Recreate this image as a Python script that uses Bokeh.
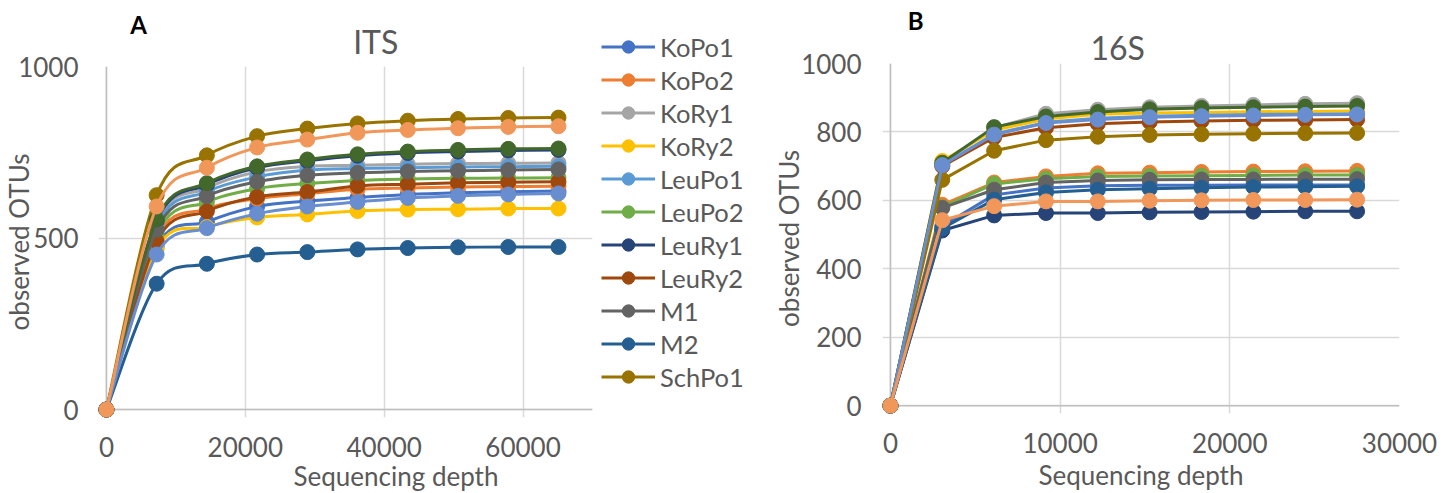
import numpy as np
from bokeh.plotting import figure
from bokeh.models import Range1d, FixedTicker, Legend, LegendItem, Span, Title, LinearAxis
from bokeh.layouts import row
from bokeh.embed import file_html
from bokeh.resources import INLINE

FONT = "Lato"
TEXT = "#595959"

# ---------------- data ----------------
series_names = ["KoPo1", "KoPo2", "KoRy1", "KoRy2", "LeuPo1", "LeuPo2", "LeuRy1",
                "LeuRy2", "M1", "M2", "SchPo1", "SchPo2", "SchRy1", "SchRy2"]
series_colors = ["#4472C4", "#ED7D31", "#A5A5A5", "#FFC000", "#5B9BD5", "#70AD47", "#264478",
                 "#9E480E", "#636363", "#255E91", "#997300", "#43682B", "#698ED0", "#F1975A"]
legend_count = 11

its_depth = [0, 7233, 14467, 21700, 28933, 36167, 43400, 50633, 57867, 65100]
its_KoPo1 = [0, 475, 547, 592, 608, 618, 627, 632, 635, 637]
its_KoPo2 = [0, 500, 585, 615, 629, 642, 646, 649, 650, 651]
its_KoRy1 = [0, 545, 645, 693, 709, 712, 715, 717, 718, 719]
its_KoRy2 = [0, 468, 532, 560, 569, 579, 583, 584, 586, 586]
its_LeuPo1 = [0, 535, 635, 678, 698, 703, 705, 707, 708, 709]
its_LeuPo2 = [0, 512, 605, 644, 659, 668, 672, 674, 675, 676]
its_LeuRy1 = [0, 550, 655, 705, 725, 740, 748, 752, 755, 757]
its_LeuRy2 = [0, 490, 578, 620, 634, 652, 657, 661, 663, 664]
its_M1 = [0, 524, 622, 664, 683, 690, 694, 696, 698, 700]
its_M2 = [0, 367, 425, 452, 459, 467, 471, 473, 474, 474]
its_SchPo1 = [0, 625, 741, 797, 819, 834, 842, 847, 850, 851]
its_SchPo2 = [0, 554, 660, 709, 729, 744, 752, 757, 760, 761]
its_SchRy1 = [0, 452, 529, 571, 592, 605, 617, 623, 627, 630]
its_SchRy2 = [0, 592, 705, 764, 787, 807, 815, 820, 824, 826]

s16_depth = [0, 3056, 6111, 9167, 12222, 15278, 18333, 21389, 24444, 27500]
s16_KoPo1 = [0, 525, 616, 636, 643, 644, 644, 645, 645, 645]
s16_KoPo2 = [0, 587, 652, 670, 679, 681, 683, 684, 685, 686]
s16_KoRy1 = [0, 708, 812, 853, 865, 872, 876, 879, 882, 884]
s16_KoRy2 = [0, 715, 805, 838, 852, 855, 857, 859, 860, 861]
s16_LeuPo1 = [0, 702, 794, 828, 840, 846, 849, 851, 852, 853]
s16_LeuPo2 = [0, 580, 648, 663, 670, 671, 672, 673, 674, 674]
s16_LeuRy1 = [0, 512, 556, 563, 563, 565, 566, 567, 568, 568]
s16_LeuRy2 = [0, 700, 784, 812, 824, 829, 832, 834, 835, 836]
s16_M1 = [0, 578, 631, 652, 658, 660, 661, 661, 662, 662]
s16_M2 = [0, 518, 602, 623, 631, 634, 637, 639, 640, 641]
s16_SchPo1 = [0, 660, 745, 776, 786, 791, 793, 795, 796, 797]
s16_SchPo2 = [0, 710, 814, 845, 858, 866, 870, 872, 874, 876]
s16_SchRy1 = [0, 703, 792, 826, 836, 843, 846, 848, 850, 851]
s16_SchRy2 = [0, 542, 583, 597, 597, 599, 600, 601, 601, 602]

its_values = [its_KoPo1, its_KoPo2, its_KoRy1, its_KoRy2, its_LeuPo1, its_LeuPo2, its_LeuRy1,
              its_LeuRy2, its_M1, its_M2, its_SchPo1, its_SchPo2, its_SchRy1, its_SchRy2]
s16_values = [s16_KoPo1, s16_KoPo2, s16_KoRy1, s16_KoRy2, s16_LeuPo1, s16_LeuPo2, s16_LeuRy1,
              s16_LeuRy2, s16_M1, s16_M2, s16_SchPo1, s16_SchPo2, s16_SchRy1, s16_SchRy2]

its_xticks = [0, 20000, 40000, 60000]
its_yticks = [0, 500, 1000]
s16_xticks = [0, 10000, 20000, 30000]
s16_yticks = [0, 200, 400, 600, 800, 1000]


def smooth(x, y):
    """Catmull-Rom style bezier segments through the data points (Excel smoothed line)."""
    x = list(x); y = list(y); n = len(x)
    d = dict(x0=[], y0=[], x1=[], y1=[], cx0=[], cy0=[], cx1=[], cy1=[])
    for i in range(n - 1):
        xp, yp = (x[i - 1], y[i - 1]) if i > 0 else (x[i], y[i])
        xn, yn = (x[i + 2], y[i + 2]) if i + 2 < n else (x[i + 1], y[i + 1])
        d["x0"].append(x[i]); d["y0"].append(y[i])
        d["x1"].append(x[i + 1]); d["y1"].append(y[i + 1])
        d["cx0"].append(x[i] + (x[i + 1] - xp) / 6); d["cy0"].append(y[i] + (y[i + 1] - yp) / 6)
        d["cx1"].append(x[i + 1] - (xn - x[i]) / 6); d["cy1"].append(y[i + 1] - (yn - y[i]) / 6)
    return d


def style(p, xticks, yticks, ystand, xstand, ylab_stand, xlabel=None, xlab_stand=0):
    p.outline_line_color = None
    p.background_fill_color = "white"
    p.border_fill_color = "white"
    for ax, tk, st in ((p.xaxis, xticks, xstand), (p.yaxis, yticks, ystand)):
        ax.ticker = FixedTicker(ticks=tk)
        ax.axis_line_color = None
        ax.major_tick_line_color = None
        ax.minor_tick_line_color = None
        ax.major_tick_out = 0
        ax.major_tick_in = 0
        ax.major_label_text_font = FONT
        ax.major_label_text_font_size = "26px"
        ax.major_label_text_color = TEXT
        ax.major_label_standoff = st
        ax.axis_label_text_font = FONT
        ax.axis_label_text_font_size = "26px"
        ax.axis_label_text_color = TEXT
        ax.axis_label_text_font_style = "normal"
    p.yaxis.axis_label = "observed OTUs"
    p.yaxis.axis_label_standoff = ylab_stand
    if xlabel is not None:
        p.xaxis.axis_label = xlabel
        p.xaxis.axis_label_standoff = xlab_stand
    p.xgrid.ticker = FixedTicker(ticks=xticks)
    p.ygrid.ticker = FixedTicker(ticks=yticks)
    for g in (p.xgrid, p.ygrid):
        g.grid_line_color = "#D9D9D9"
        g.grid_line_width = 1.5
    p.add_layout(Span(location=0, dimension="height", line_color="#BFBFBF", line_width=1.5, level="underlay"))
    p.add_layout(Span(location=0, dimension="width", line_color="#BFBFBF", line_width=1.5, level="underlay"))


def heading(p, x, text, size, bold, color, standoff):
    """A one-label axis above the frame, used as a positioned heading."""
    ax = LinearAxis(ticker=FixedTicker(ticks=[x]), major_label_overrides={x: text},
                    axis_line_color=None, major_tick_line_color=None, minor_tick_line_color=None,
                    major_tick_out=0, major_tick_in=0, major_label_standoff=standoff,
                    major_label_text_font=FONT, major_label_text_font_size=f"{size}px",
                    major_label_text_font_style="bold" if bold else "normal",
                    major_label_text_color=color)
    p.add_layout(ax, "above")


# ---------------- ITS panel ----------------
p1 = figure(width=600, height=493, output_backend="svg", toolbar_location=None,
            x_range=Range1d(-1140, 70000), y_range=Range1d(-23, 1000),
            min_border_left=93, min_border_right=8, min_border_top=66, min_border_bottom=76)
p1.frame_align = False
style(p1, its_xticks, its_yticks, 20, 19, -20)
p1.add_layout(Title(text="Sequencing depth", align="left", offset=195, standoff=-4,
                    text_font=FONT, text_font_size="26px", text_font_style="normal",
                    text_color=TEXT), "below")
heading(p1, 38778, "ITS", 32, False, TEXT, 6)        # nearest the frame
heading(p1, 4634, "A", 24, True, "#000000", -20)     # outer

for name, col, vals in zip(series_names, series_colors, its_values):
    p1.bezier(**smooth(its_depth, vals), line_color=col, line_width=3)
    p1.scatter(its_depth, vals, size=15, fill_color=col, line_color=col, line_width=1)

# ---------------- legend (for the ITS panel) ----------------
legfig = figure(width=170, height=493, output_backend="svg", toolbar_location=None, title=None,
                x_axis_type=None, y_axis_type=None, x_range=Range1d(1, 2), y_range=Range1d(0, 1),
                min_border_left=0, min_border_right=0, min_border_top=0, min_border_bottom=0)
legfig.frame_align = False
legfig.outline_line_color = None
legfig.background_fill_color = "white"
legfig.border_fill_color = "white"
items = []
for name, col, vals in list(zip(series_names, series_colors, its_values))[:legend_count]:
    # sample glyphs for the legend; their single point lies outside the (empty) view
    lr = legfig.line([its_depth[0]], [vals[0]], line_color=col, line_width=3)
    sr = legfig.scatter([its_depth[0]], [vals[0]], size=15, fill_color=col, line_color=col)
    items.append(LegendItem(label=name, renderers=[lr, sr]))
legend = Legend(items=items, location=(1, 101), orientation="vertical",
                glyph_width=54, glyph_height=31, label_height=31, spacing=2,
                padding=0, margin=0, label_standoff=5, border_line_color=None,
                background_fill_alpha=0, label_text_font=FONT,
                label_text_font_size="25.5px", label_text_color=TEXT)
legfig.add_layout(legend, "center")

# ---------------- 16S panel ----------------
p2 = figure(width=674, height=493, output_backend="svg", toolbar_location=None,
            x_range=Range1d(-467, 30000), y_range=Range1d(-23, 1000),
            min_border_left=107, min_border_right=45, min_border_top=63, min_border_bottom=77)
p2.frame_align = False
style(p2, s16_xticks, s16_yticks, 21, 19, -7, xlabel="Sequencing depth", xlab_stand=3)
heading(p2, 13395, "16S", 32, False, TEXT, -3)
heading(p2, 1488, "B", 24, True, "#000000", -10)

for name, col, vals in zip(series_names, series_colors, s16_values):
    p2.line(s16_depth, vals, line_color=col, line_width=3)
    p2.scatter(s16_depth, vals, size=15, fill_color=col, line_color=col, line_width=1)

layout = row(p1, legfig, p2)
open("out.html", "w").write(file_html(layout, INLINE))
